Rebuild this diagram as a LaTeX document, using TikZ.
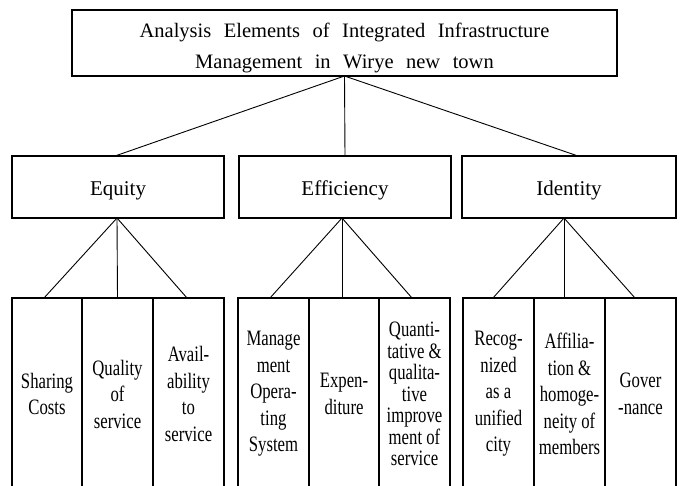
\documentclass[tikz,border=0pt]{standalone}
\usepackage{fontspec}
\setmainfont{Liberation Serif}
\newfontfamily\narrowserif[FakeStretch=0.76]{Liberation Serif}
\begin{document}
\begin{tikzpicture}[x=1pt,y=-1pt,
  box/.style={draw, line width=1.7pt, rectangle, inner sep=0pt, outer sep=0pt},
  headbox/.style={box, minimum height=66pt},
  groupbox/.style={box, minimum height=62pt, font=\fontsize{21}{25}\selectfont,
    text height=20pt, text depth=4pt},
  leafbox/.style={box, minimum height=192pt, align=center,
    font=\narrowserif\fontsize{22}{26.5}\selectfont},
  tightleaf/.style={leafbox, font=\narrowserif\fontsize{22}{21.5}\selectfont},
  titletext/.style={inner sep=0pt, anchor=base, font=\fontsize{20.5}{31}\selectfont},
  link/.style={line width=0.9pt}]
\useasboundingbox (0,0) rectangle (680,485);
\clip (0,0) rectangle (680,485);

% root
\node[headbox, minimum width=545pt] (title) at (344.5,43) {};
\node[titletext] (t1) at (344.5,37) {\spaceskip=12.5pt Analysis Elements of Integrated Infrastructure};
\node[titletext] (t2) at (344.5,68) {\spaceskip=12.5pt Management in Wirye new town};

% three groups
\node[groupbox, minimum width=212pt] (equity) at (118,187) {Equity};
\node[groupbox, minimum width=212pt] (effic) at (345,187) {Efficiency};
\node[groupbox, minimum width=214pt] (ident) at (569,187) {Identity};

% leaves (run past the lower edge)
\node[leafbox, minimum width=70pt] (sc) at (47,394) {Sharing\\Costs};
\node[leafbox, minimum width=71pt] (qs) at (117.5,394) {Quality\\of\\service};
\node[leafbox, minimum width=71pt] (av) at (188.5,394) {Avail-\\ability\\to\\service};

\node[leafbox, minimum width=71pt] (mos) at (273.5,394) {Manage\\ment\\Opera-\\ting\\System};
\node[leafbox, minimum width=70pt] (ex) at (344,394) {Expen-\\diture};
\node[tightleaf, minimum width=71pt] (qq) at (414.5,394) {Quanti-\\tative \&\\qualita-\\tive\\improve\\ment of\\service};

\node[leafbox, minimum width=71pt] (rc) at (498.5,394) {Recog-\\nized\\as a\\unified\\city};
\node[leafbox, minimum width=71pt] (af) at (569.5,394) {Affilia-\\tion \&\\homoge-\\neity of\\members};
\node[leafbox, minimum width=71pt] (gv) at (640.5,394) {Gover\\-nance};

% connectors
\draw[link] (title.south) -- ([xshift=-3pt]equity.north);
\draw[link] (title.south) -- (effic.north);
\draw[link] (title.south) -- ([xshift=9pt]ident.north);

\draw[link] ([xshift=-1pt]equity.south) -- ([xshift=-3pt]sc.north);
\draw[link] ([xshift=-1pt]equity.south) -- (qs.north);
\draw[link] ([xshift=-1pt]equity.south) -- ([xshift=-1.5pt]av.north);

\draw[link] ([xshift=-3pt]effic.south) -- ([xshift=-3.5pt]mos.north);
\draw[link] ([xshift=-3pt]effic.south) -- ([xshift=-2pt]ex.north);
\draw[link] ([xshift=-3pt]effic.south) -- ([xshift=-2.5pt]qq.north);

\draw[link] ([xshift=-5pt]ident.south) -- ([xshift=-5.5pt]rc.north);
\draw[link] ([xshift=-5pt]ident.south) -- ([xshift=-5.5pt]af.north);
\draw[link] ([xshift=-5pt]ident.south) -- ([xshift=-5.5pt]gv.north);
\end{tikzpicture}
\end{document}
